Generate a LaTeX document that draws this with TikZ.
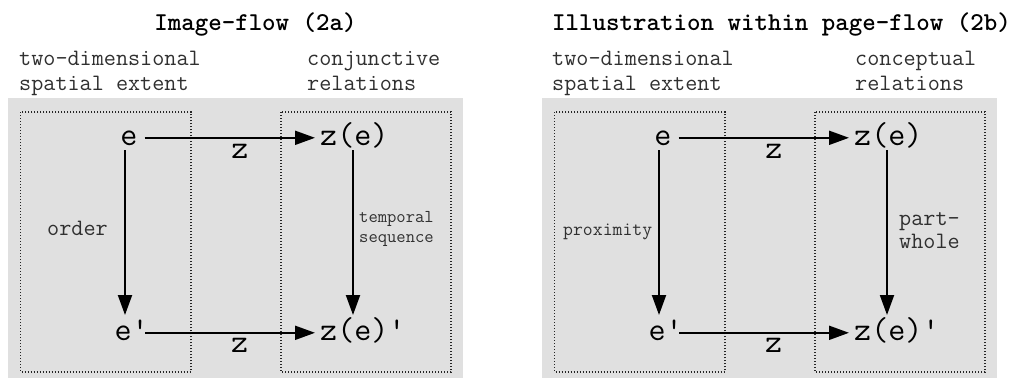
\documentclass[tikz,border=0pt]{standalone}
\usepackage{fontspec}
\usetikzlibrary{arrows.meta}
\definecolor{panelgray}{HTML}{E0E0E0}
\definecolor{txtgray}{HTML}{303030}
\newcommand\twolines[2]{\begin{tabular}[t]{@{}l@{}}#1\\#2\end{tabular}}
\begin{document}
\begin{tikzpicture}[x=1pt,y=-1pt,
  big/.style={font=\ttfamily\fontsize{33.1}{38}\selectfont, inner sep=0pt},
  mid/.style={font=\ttfamily\fontsize{23.5}{25}\selectfont, inner sep=0pt, text=txtgray},
  midtight/.style={font=\ttfamily\fontsize{23.5}{23}\selectfont, inner sep=0pt, text=txtgray},
  smallA/.style={font=\ttfamily\fontsize{18.1}{20}\selectfont, inner sep=0pt, text=txtgray},
  smallB/.style={font=\ttfamily\fontsize{19.2}{20}\selectfont, inner sep=0pt, text=txtgray},
  ttl/.style={font=\ttfamily\bfseries\fontsize{25.7}{28}\selectfont, inner sep=0pt},
  panel/.style={fill=panelgray, draw=none},
  region/.style={draw=black!85, line width=1.2pt, dash pattern=on 1.2pt off 1.8pt},
  arr/.style={line width=2pt, -{Triangle[length=20pt,width=14pt]}},
]
\useasboundingbox (0,0) rectangle (1012,378);

% ---------- left panel (2a) ----------
\node[ttl, anchor=base] (titleA) at (255.5,30) {Image-flow (2a)};
\node[mid, anchor=base west] (hdrA1) at (19,65) {\twolines{two-dimensional}{spatial extent}};
\node[mid, anchor=base west] (hdrA2) at (307,65) {\twolines{conjunctive}{relations}};
\fill[panel] (8,98) rectangle (463,378);
\draw[region] (20.7,112) rectangle (191,372);
\draw[region] (281,112) rectangle (451,372);

\node[big, anchor=base] (eA) at (129,145) {e};
\node[big, anchor=base west] (zeA) at (320,145) {z(e)};
\node[big, anchor=base west] (epA) at (114.3,340) {e'};
\node[big, anchor=base west] (zepA) at (320,340) {z(e)'};
\node[mid, anchor=base west] (orderA) at (47,235) {order};
\node[smallA, anchor=base west] (tempA) at (359,222) {\twolines{temporal}{sequence}};

\draw[arr, shorten <=7pt, shorten >=5pt] ([yshift=7.2pt]eA.base east) -- ([yshift=7.2pt]zeA.west |- eA.base)
  node[big, pos=0.56, anchor=base, yshift=-20.5pt] (zA1) {z};
\draw[arr, shorten >=5pt] ([xshift=31pt,yshift=7.2pt]epA.base west) -- ([yshift=7.2pt]zepA.west |- epA.base)
  node[big, pos=0.54, anchor=base, yshift=-19.5pt] (zA2) {z};
\draw[arr] ([xshift=-4pt,yshift=-5pt]eA.base) -- ([xshift=10.7pt,yshift=25pt]epA.base west);
\draw[arr] ([xshift=33pt,yshift=-5pt]zeA.base west) -- ([xshift=33pt,yshift=25pt]zepA.base west);

% ---------- right panel (2b) ----------
\node[ttl, anchor=base] (titleB) at (781.5,30) {Illustration within page-flow (2b)};
\node[mid, anchor=base west] (hdrB1) at (552,65) {\twolines{two-dimensional}{spatial extent}};
\node[mid, anchor=base west] (hdrB2) at (855,65) {\twolines{conceptual}{relations}};
\fill[panel] (542,98) rectangle (997,378);
\draw[region] (554.7,112) rectangle (725,372);
\draw[region] (815,112) rectangle (985,372);

\node[big, anchor=base] (eB) at (663,145) {e};
\node[big, anchor=base west] (zeB) at (854,145) {z(e)};
\node[big, anchor=base west] (epB) at (648.3,340) {e'};
\node[big, anchor=base west] (zepB) at (854,340) {z(e)'};
\node[smallB, anchor=base west] (proxB) at (563,235) {proximity};
\node[midtight, anchor=base west] (partB) at (899,225) {\twolines{part-}{whole}};

\draw[arr, shorten <=7pt, shorten >=5pt] ([yshift=7.2pt]eB.base east) -- ([yshift=7.2pt]zeB.west |- eB.base)
  node[big, pos=0.56, anchor=base, yshift=-20.5pt] (zB1) {z};
\draw[arr, shorten >=5pt] ([xshift=31pt,yshift=7.2pt]epB.base west) -- ([yshift=7.2pt]zepB.west |- epB.base)
  node[big, pos=0.54, anchor=base, yshift=-19.5pt] (zB2) {z};
\draw[arr] ([xshift=-4pt,yshift=-5pt]eB.base) -- ([xshift=10.7pt,yshift=25pt]epB.base west);
\draw[arr] ([xshift=33pt,yshift=-5pt]zeB.base west) -- ([xshift=33pt,yshift=25pt]zepB.base west);
\end{tikzpicture}
\end{document}
